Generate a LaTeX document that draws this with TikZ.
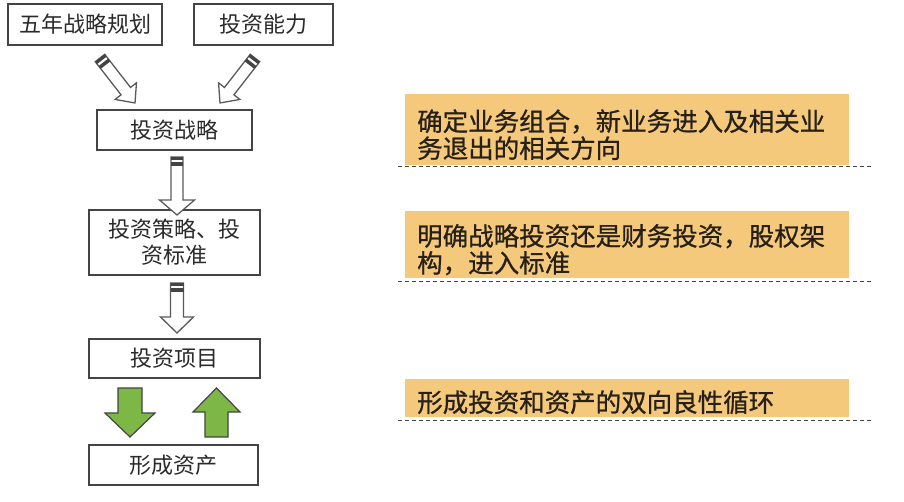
\documentclass[tikz,border=0pt]{standalone}
\usepackage{fontspec}
\newfontfamily\cjk{Noto Sans CJK SC}
\newfontfamily\cjkheavy[FakeBold=0.8]{Noto Sans CJK SC}
\usetikzlibrary{calc}
\definecolor{boxline}{HTML}{444444}
\definecolor{arrowline}{HTML}{5A5A5A}
\definecolor{txt}{HTML}{2A2A2A}
\definecolor{notetxt}{HTML}{262018}
\definecolor{orangefill}{HTML}{F5C97C}
\definecolor{greenfill}{HTML}{7DB847}
\tikzset{
 x=1pt,y=1pt,
 box/.style={draw=boxline, line width=1.6pt, minimum height=40pt, inner sep=0pt, text=txt,
   font=\cjk\fontsize{22}{26}\selectfont, align=center},
 note/.style={fill=orangefill, anchor=north west, inner sep=0pt, minimum width=444pt},
 notetext/.style={anchor=west, text=notetxt, align=left, inner sep=0pt,
   font=\cjkheavy\fontsize{25.5}{27}\selectfont},
 guide/.style={draw=boxline, line width=1pt, dash pattern=on 4pt off 3pt},
 hollow/.style={draw=arrowline, line width=1.3pt, fill=white, line join=miter},
 greenarrow/.style={draw=boxline, line width=1.2pt, fill=greenfill, line join=miter},
 pics/stripedarrow/.style n args={4}{code={
   \draw[hollow] (0,-#2) -- ({#1-#4},-#2) -- ({#1-#4},-#3) -- (#1,0) -- ({#1-#4},#3) -- ({#1-#4},#2) -- (0,#2) -- cycle;
   \fill[boxline] (0,-#2) -- (3,-#2) -- (3,#2) -- (0,#2) -- cycle;
   \fill[boxline] (5.5,-#2) -- (9,-#2) -- (9,#2) -- (5.5,#2) -- cycle;
 }},
 pics/greenblock/.style n args={4}{code={
   \draw[greenarrow] (0,-#2) -- ({#1-#4},-#2) -- ({#1-#4},-#3) -- (#1,0) -- ({#1-#4},#3) -- ({#1-#4},#2) -- (0,#2) -- cycle;
 }},
}
\begin{document}
\begin{tikzpicture}
\useasboundingbox[fill=white] (0,0) rectangle (904,501);

% left column boxes
\node[box, minimum width=154, minimum height=41] (plan) at (85,476.5) {五年战略规划};
\node[box, minimum width=139, minimum height=41] (cap) at (263.5,476.5) {投资能力};
\node[box, minimum width=155] (strat) at (174.5,371) {投资战略};
\node[box, minimum width=171, minimum height=65] (policy) at (174.5,258.5) {投资策略、投\\资标准};
\node[box, minimum width=171, minimum height=39] (proj) at (174.5,142.5) {投资项目};
\node[box, minimum width=169, minimum height=40] (asset) at (173.5,36) {形成资产};

% striped hollow arrows
\pic[rotate=-52.1] at (100,443) {stripedarrow={57}{6}{13.5}{15}};
\pic[rotate=-127.9] at (255,443) {stripedarrow={57}{6}{13.5}{15}};
\pic[rotate=-90] at (177,344) {stripedarrow={58}{6}{17.5}{15}};
\pic[rotate=-90] at (177,218) {stripedarrow={50}{6.5}{16.5}{16}};

% green arrows
\pic[rotate=-90] at (130,113) {greenblock={49}{12}{25}{24}};
\pic[rotate=90] at (216.5,64) {greenblock={49}{11.5}{23.5}{24}};

% notes
\coordinate (g1a) at (398,334); \coordinate (g1b) at (873,334);
\coordinate (g2a) at (398,219); \coordinate (g2b) at (873,219);
\coordinate (g3a) at (398,81);  \coordinate (g3b) at (873,81);
\draw[guide] (g1a) -- (g1b);
\draw[guide] (g2a) -- (g2b);
\draw[guide] (g3a) -- (g3b);

\node[note, minimum height=71] (n1) at (405,407) {};
\node[note, minimum height=67] (n2) at (405,290) {};
\node[note, minimum height=38] (n3) at (405,122) {};

\node[notetext] (t1) at ($(n1.west)+(12,-5)$) {确定业务组合，新业务进入及相关业\\务退出的相关方向};
\node[notetext] (t2) at ($(n2.west)+(12,-5)$) {明确战略投资还是财务投资，股权架\\构，进入标准};
\node[notetext] (t3) at ($(n3.west)+(12,-4)$) {形成投资和资产的双向良性循环};
\end{tikzpicture}
\end{document}
